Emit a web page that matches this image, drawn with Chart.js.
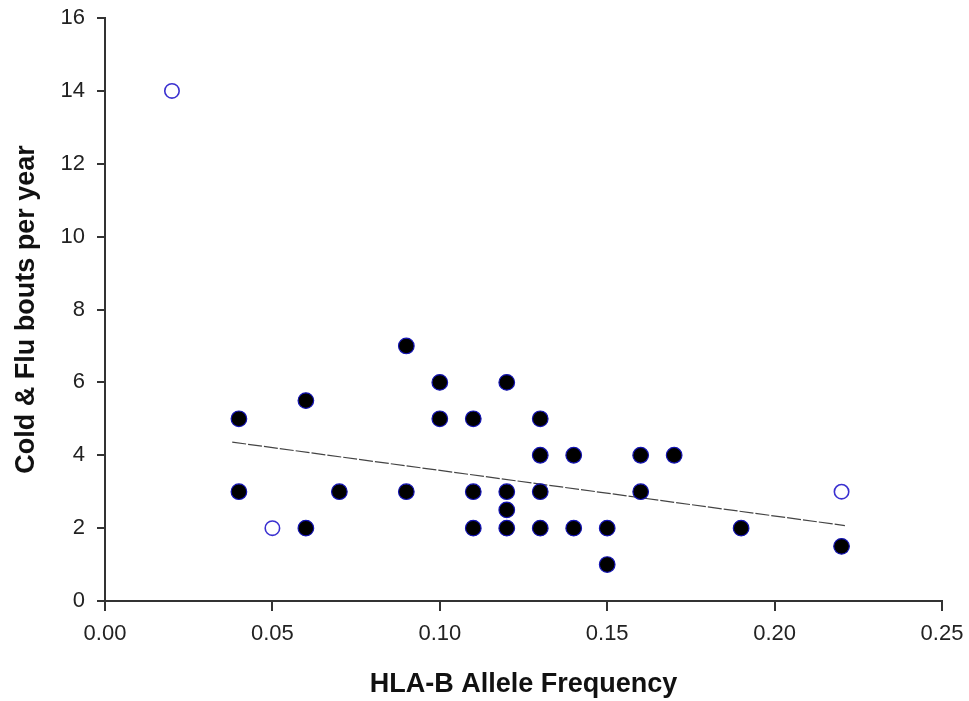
<!DOCTYPE html>
<html lang="en">
<head>
    <meta charset="UTF-8">
    <title>HLA-B Allele Frequency</title>
    <script src="https://cdn.jsdelivr.net/npm/chart.js"></script>
    <style>
        body { margin: 0; background: #fff; }
        #wrap { width: 969px; height: 701px; }
    </style>
</head>
<body>
<div id="wrap"><canvas id="hlaChart"></canvas></div>

<script>
    // filled dots
    const freq = [0.04, 0.04, 0.06, 0.06, 0.07, 0.09, 0.09, 0.10, 0.10, 0.11, 0.11, 0.11,
                  0.12, 0.12, 0.12, 0.12, 0.13, 0.13, 0.13, 0.13, 0.14, 0.14, 0.15, 0.15,
                  0.16, 0.16, 0.17, 0.19, 0.22];
    const bouts = [5, 3, 5.5, 2, 3, 7, 3, 6, 5, 5, 3, 2,
                   6, 3, 2.5, 2, 5, 4, 3, 2, 4, 2, 2, 1,
                   4, 3, 4, 2, 1.5];
    // open circles
    const openFreq = [0.02, 0.05, 0.22];
    const openBouts = [14, 2, 3];
    // regression line ends
    const trendX = [0.038, 0.221];
    const trendY = [4.36, 2.07];

    const toPts = (xs, ys) => xs.map((x, i) => ({ x: x, y: ys[i] }));

    const axisColor = '#333';
    const tickFont = { family: 'Liberation Sans, Arial, sans-serif', size: 22 };
    const titleFont = { family: 'Liberation Sans, Arial, sans-serif', size: 27, weight: 'bold' };

    const ctx = document.getElementById('hlaChart').getContext('2d');
    const hlaChart = new Chart(ctx, {
        type: 'scatter',
        data: {
            datasets: [{
                data: toPts(freq, bouts),
                backgroundColor: '#000',
                borderColor: '#1414b4',
                borderWidth: 1.2,
                pointRadius: 7.8,
                order: 1
            }, {
                data: toPts(openFreq, openBouts),
                backgroundColor: '#fff',
                borderColor: '#3a30d0',
                borderWidth: 1.6,
                pointRadius: 7.2,
                order: 2
            }, {
                type: 'line',
                data: toPts(trendX, trendY),
                borderColor: '#444',
                borderWidth: 1.2,
                borderDash: [14, 2],
                pointRadius: 0,
                fill: false,
                order: 3
            }]
        },
        options: {
            responsive: true,
            maintainAspectRatio: false,
            animation: false,
            layout: { padding: { top: 18, right: 27, left: 0, bottom: 0 } },
            plugins: { legend: { display: false }, tooltip: { enabled: false } },
            scales: {
                x: {
                    type: 'linear',
                    min: 0,
                    max: 0.25,
                    afterFit: s => { s.height = 100; s.paddingLeft = 0; s.paddingRight = 0; },
                    ticks: {
                        stepSize: 0.05,
                        color: '#222',
                        font: tickFont,
                        padding: 10,
                        callback: v => v.toFixed(2)
                    },
                    grid: { drawOnChartArea: false, drawTicks: true, tickLength: 10, color: axisColor, lineWidth: 2 },
                    border: { display: true, color: axisColor, width: 2 },
                    title: {
                        display: true,
                        text: 'HLA-B Allele Frequency',
                        color: '#111',
                        font: titleFont,
                        padding: { top: 0, bottom: 0 }
                    }
                },
                y: {
                    min: 0,
                    max: 16,
                    afterFit: s => { s.width = 105; s.paddingTop = 0; s.paddingBottom = 0; },
                    ticks: {
                        stepSize: 2,
                        color: '#222',
                        font: tickFont,
                        padding: 12
                    },
                    grid: { drawOnChartArea: false, drawTicks: true, tickLength: 8, color: axisColor, lineWidth: 2 },
                    border: { display: true, color: axisColor, width: 2 },
                    title: {
                        display: true,
                        text: 'Cold & Flu bouts per year',
                        color: '#111',
                        font: titleFont,
                        padding: { top: 10, bottom: 0 }
                    }
                }
            }
        }
    });
</script>
</body>
</html>
